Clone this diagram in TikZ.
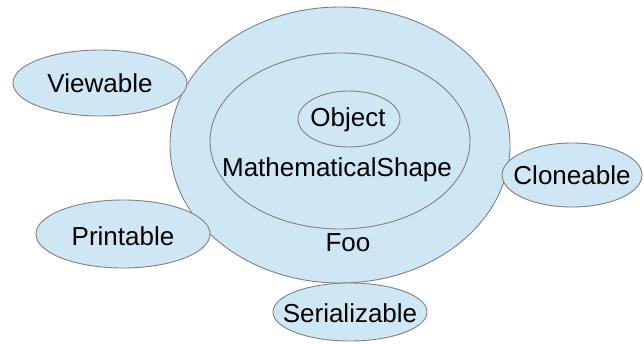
\documentclass[tikz,border=0pt]{standalone}
\usepackage{fontspec}
\setmainfont{Liberation Sans}
\usetikzlibrary{shapes.geometric}
\definecolor{fillblue}{HTML}{CFE6F4}
\definecolor{edgegray}{HTML}{808080}
\begin{document}
\begin{tikzpicture}[x=1pt,y=-1pt,
  oval/.style={fill=fillblue,draw=edgegray,line width=0.9pt},
  lbl/.style={font=\fontsize{26}{30}\selectfont,inner sep=0pt,text=black}]
\useasboundingbox (0,0) rectangle (644,343);
% big ellipses
\path[oval] (340,145) ellipse [x radius=170,y radius=138];
\path[oval] (340,141) ellipse [x radius=130,y radius=88];
\path[oval] (349,119) ellipse [x radius=51,y radius=28];
% satellites
\path[oval] (100,83) ellipse [x radius=87,y radius=33];
\path[oval] (123,234) ellipse [x radius=87,y radius=34];
\path[oval] (572,175) ellipse [x radius=70,y radius=32];
\path[oval] (350,312) ellipse [x radius=77,y radius=29];
% labels
\node[lbl] (object) at (348,120) {Object};
\node[lbl] (math) at (337,170) {MathematicalShape};
\node[lbl] (foo) at (348,243) {Foo};
\node[lbl] (view) at (100,83) {Viewable};
\node[lbl] (print) at (123,236) {Printable};
\node[lbl] (clone) at (572,175) {Cloneable};
\node[lbl] (ser) at (350,313) {Serializable};
\end{tikzpicture}
\end{document}
